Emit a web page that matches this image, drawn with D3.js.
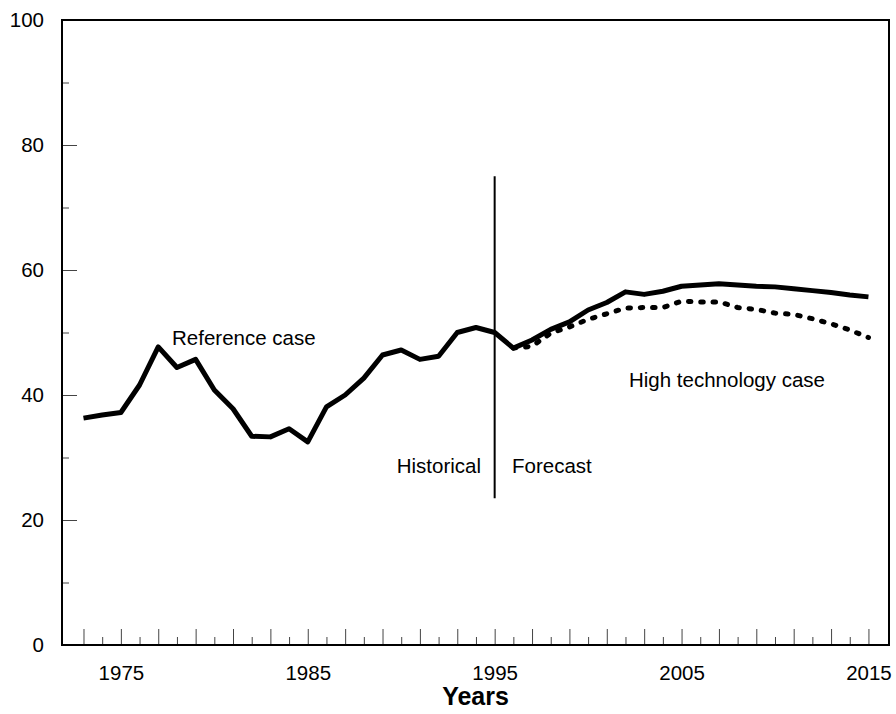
<!DOCTYPE html>
<html>
<head>
<meta charset="utf-8">
<script src="https://cdn.jsdelivr.net/npm/d3@7"></script>
<style>
  body { margin: 0; background: #fff; }
  svg { display: block; font-family: "Liberation Sans", Arial, sans-serif; }
  .axis text { font-size: 20.5px; fill: #000; }
</style>
</head>
<body>
<svg id="viz" width="896" height="714"></svg>
<script>
// DATA
var years = d3.range(1973, 2016);
var referenceCase = [36.3, 36.8, 37.2, 41.6, 47.7, 44.4, 45.7, 40.8, 37.8, 33.4,
    33.3, 34.6, 32.5, 38.1, 40.0, 42.7, 46.4, 47.2, 45.7, 46.2,
    50.0, 50.8, 50.0, 47.5, 48.8, 50.5, 51.7, 53.6, 54.8, 56.5,
    56.1, 56.6, 57.4, 57.6, 57.8, 57.6, 57.4, 57.3, 57.0, 56.7,
    56.4, 56.0, 55.7];
var highTechYears = d3.range(1996, 2016);
var highTechCase = [47.5, 47.8, 49.9, 50.9, 52.1, 53.0, 53.9, 54.0, 54.0, 55.0,
    54.9, 54.9, 54.0, 53.7, 53.1, 52.9, 52.2, 51.4, 50.4, 49.2];
var labelYears = [1975, 1985, 1995, 2005, 2015];
var yTicks = d3.range(0, 101, 10);
var dividerYear = 1995, dividerSpan = [23.5, 75];

(function () {
    'use strict';

    var svg = d3.select("#viz");
    var plot = { left: 62, right: 889, top: 20, bottom: 645 };

    var x = d3.scaleLinear().domain([1971.85, 2016.1]).range([plot.left, plot.right]),
        y = d3.scaleLinear().domain([0, 100]).range([plot.bottom, plot.top]);

    // x axis - ticks point up into the plot, long on odd years
    var gx = svg.append("g").attr("class", "axis")
        .attr("transform", "translate(0," + plot.bottom + ")")
        .call(d3.axisBottom(x).tickValues(years)
            .tickFormat(function (d) { return labelYears.indexOf(d) > -1 ? d : ""; }));
    gx.select(".domain").remove();
    gx.selectAll(".tick line")
        .attr("y2", function (d) { return d % 2 ? -16 : -8; })
        .attr("stroke", "#444");
    gx.selectAll(".tick text").attr("y", 35).attr("dy", 0);

    // y axis
    var gy = svg.append("g").attr("class", "axis")
        .attr("transform", "translate(" + plot.left + ",0)")
        .call(d3.axisLeft(y).tickValues(yTicks)
            .tickFormat(function (d) { return d % 20 === 0 ? d : ""; }));
    gy.select(".domain").remove();
    gy.selectAll(".tick line")
        .attr("x2", function (d) { return d % 20 === 0 ? 15 : 7; })
        .attr("stroke", "#444");
    gy.selectAll(".tick text").attr("x", -18);

    // frame
    svg.append("rect")
        .attr("x", plot.left).attr("y", plot.top)
        .attr("width", plot.right - plot.left).attr("height", plot.bottom - plot.top)
        .attr("fill", "none").attr("stroke", "#000").attr("stroke-width", 2);

    // historical / forecast divider
    svg.append("line")
        .attr("x1", x(dividerYear)).attr("x2", x(dividerYear))
        .attr("y1", y(dividerSpan[0])).attr("y2", y(dividerSpan[1]))
        .attr("stroke", "#000").attr("stroke-width", 2);

    var line = d3.line()
        .x(function (d) { return x(d[0]); })
        .y(function (d) { return y(d[1]); });

    svg.append("path")
        .datum(d3.zip(highTechYears, highTechCase))
        .attr("d", line)
        .attr("fill", "none").attr("stroke", "#000")
        .attr("stroke-width", 5).attr("stroke-linecap", "round")
        .attr("stroke-dasharray", "2.5,9.8");

    svg.append("path")
        .datum(d3.zip(years, referenceCase))
        .attr("d", line)
        .attr("fill", "none").attr("stroke", "#000")
        .attr("stroke-width", 5).attr("stroke-linejoin", "round");

    // annotations
    var notes = [
        { t: "Reference case", x: 172, y: 345, a: "start" },
        { t: "Historical", x: 481, y: 473, a: "end" },
        { t: "Forecast", x: 512, y: 473, a: "start" },
        { t: "High technology case", x: 629, y: 387, a: "start" }
    ];
    svg.selectAll(".note").data(notes).enter()
        .append("text").attr("class", "note")
        .attr("x", function (d) { return d.x; })
        .attr("y", function (d) { return d.y; })
        .attr("text-anchor", function (d) { return d.a; })
        .style("font-size", "20.5px")
        .text(function (d) { return d.t; });

    svg.append("text")
        .attr("x", (plot.left + plot.right) / 2).attr("y", 705)
        .attr("text-anchor", "middle")
        .style("font-size", "25px").style("font-weight", "bold")
        .text("Years");
}());
</script>
</body>
</html>
